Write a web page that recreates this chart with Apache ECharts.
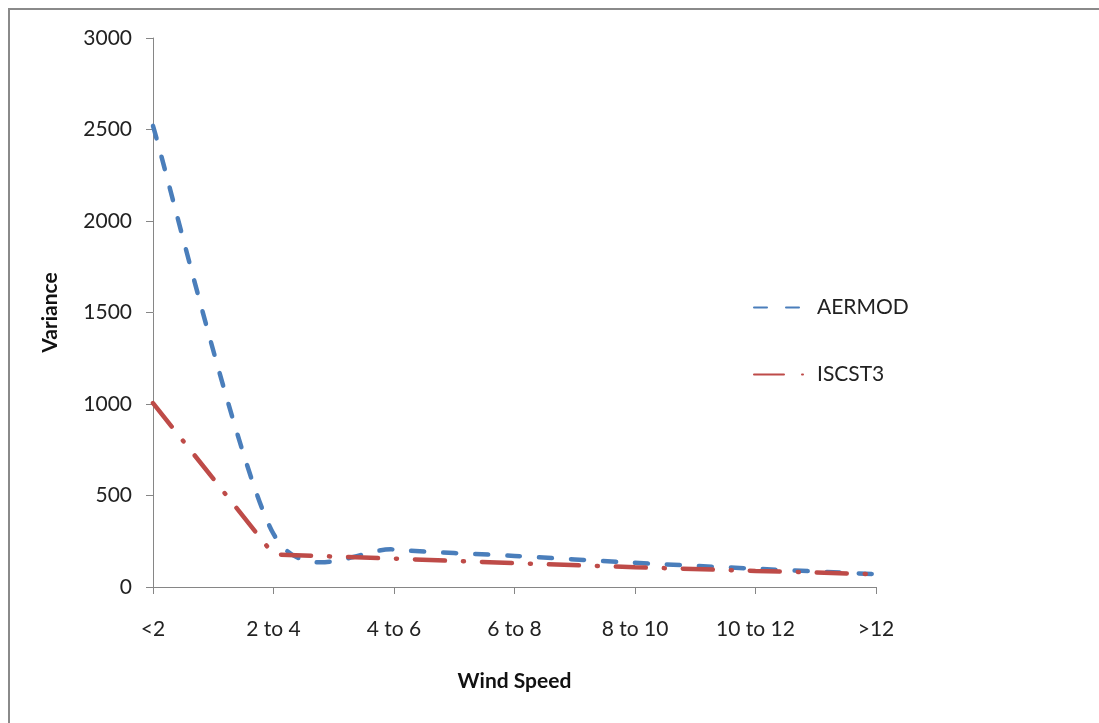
<!DOCTYPE html>
<html>
<head>
<meta charset="utf-8">
<script src="https://cdn.jsdelivr.net/npm/echarts@6/dist/echarts.min.js"></script>
<style>
    html, body { margin: 0; padding: 0; background: #fff; overflow: hidden; }
    .edge { position: absolute; background: #8a8a8a; }
    #edge-top { left: 8px; top: 8px; width: 1100px; height: 2px; }
    #edge-left { left: 8px; top: 8px; width: 2px; height: 720px; }
    #chart { position: absolute; left: 0; top: 0; width: 1099px; height: 723px; }
</style>
</head>
<body>
<div class="edge" id="edge-top"></div>
<div class="edge" id="edge-left"></div>
<div id="chart"></div>
<script>
// 风速分组
const windSpeeds = ['<2', '2 to 4', '4 to 6', '6 to 8', '8 to 10', '10 to 12', '>12'];
const aermod = [2520, 290, 205, 170, 132, 100, 70];
const iscst3 = [1005, 178, 155, 130, 108, 88, 70];
const yTicks = [0, 500, 1000, 1500, 2000, 2500, 3000];

const BLUE = '#4a7ebb';
const RED = '#be4b48';
const TENSION = 0.13;

// Excel 风格的平滑曲线 (Catmull-Rom -> Bezier)
function renderSmoothCurve(params, api) {
    if (params.dataIndex !== 0) {
        return null;
    }
    const pts = aermod.map(function (v, i) {
        return api.coord([i, v]);
    });
    let d = 'M' + pts[0][0] + ' ' + pts[0][1];
    for (let i = 0; i < pts.length - 1; i++) {
        const p0 = pts[Math.max(i - 1, 0)];
        const p1 = pts[i];
        const p2 = pts[i + 1];
        const p3 = pts[Math.min(i + 2, pts.length - 1)];
        const c1x = p1[0] + (p2[0] - p0[0]) * TENSION;
        const c1y = p1[1] + (p2[1] - p0[1]) * TENSION;
        const c2x = p2[0] - (p3[0] - p1[0]) * TENSION;
        const c2y = p2[1] - (p3[1] - p1[1]) * TENSION;
        d += ' C' + c1x + ' ' + c1y + ' ' + c2x + ' ' + c2y + ' ' + p2[0] + ' ' + p2[1];
    }
    return {
        type: 'path',
        shape: { pathData: d },
        style: {
            fill: null,
            stroke: BLUE,
            lineWidth: 4.5,
            lineDash: [13, 19],
            lineCap: 'round'
        }
    };
}

function initVarianceChart() {
    const chart = echarts.init(document.getElementById('chart'));
    const font = 'Lato, "Open Sans", sans-serif';

    const option = {
        animation: false,
        grid: {
            left: 153,
            right: 223,
            top: 38,
            bottom: 136
        },
        legend: {
            orient: 'vertical',
            left: 748,
            top: 292,
            itemWidth: 50,
            itemHeight: 14,
            itemGap: 46,
            lineStyle: { opacity: 1 },
            itemStyle: { opacity: 0 },
            textStyle: {
                fontFamily: font,
                fontSize: 21,
                color: '#222',
                padding: [0, 0, 0, 8]
            },
            data: ['AERMOD', 'ISCST3']
        },
        xAxis: {
            type: 'category',
            data: windSpeeds,
            boundaryGap: false,
            name: 'Wind Speed',
            nameLocation: 'middle',
            nameGap: 84,
            nameTextStyle: {
                fontFamily: font,
                fontSize: 21,
                fontWeight: 'bold',
                color: '#111'
            },
            axisLine: { lineStyle: { color: '#868686', width: 1 } },
            axisTick: { alignWithLabel: true, length: 7, lineStyle: { color: '#868686' } },
            axisLabel: {
                margin: 32,
                fontFamily: font,
                fontSize: 21,
                color: '#222'
            }
        },
        yAxis: {
            type: 'value',
            min: yTicks[0],
            max: yTicks[yTicks.length - 1],
            interval: 500,
            name: 'Variance',
            nameLocation: 'middle',
            nameRotate: 90,
            nameGap: 92,
            nameTextStyle: {
                fontFamily: font,
                fontSize: 21,
                fontWeight: 'bold',
                color: '#111'
            },
            splitLine: { show: false },
            axisLine: { show: true, lineStyle: { color: '#868686', width: 1 } },
            axisTick: { show: true, length: 7, lineStyle: { color: '#868686' } },
            axisLabel: {
                margin: 21,
                fontFamily: font,
                fontSize: 21,
                color: '#222',
                formatter: function (v) { return String(v); }
            }
        },
        series: [{
            // 仅用于图例
            name: 'AERMOD',
            type: 'line',
            data: aermod,
            symbol: 'none',
            itemStyle: { color: BLUE },
            lineStyle: {
                color: BLUE,
                width: 4.5,
                type: [13, 19],
                cap: 'round',
                opacity: 0
            }
        }, {
            name: 'AERMOD-curve',
            type: 'custom',
            data: aermod.map(function (v, i) { return [i, v]; }),
            renderItem: renderSmoothCurve,
            silent: true
        }, {
            name: 'ISCST3',
            type: 'line',
            data: iscst3,
            symbol: 'none',
            itemStyle: { color: RED },
            lineStyle: {
                color: RED,
                width: 4.5,
                type: [30, 18, 1, 18],
                cap: 'round'
            }
        }]
    };

    chart.setOption(option);
}

window.onload = function() {
    initVarianceChart();
};
</script>
</body>
</html>
